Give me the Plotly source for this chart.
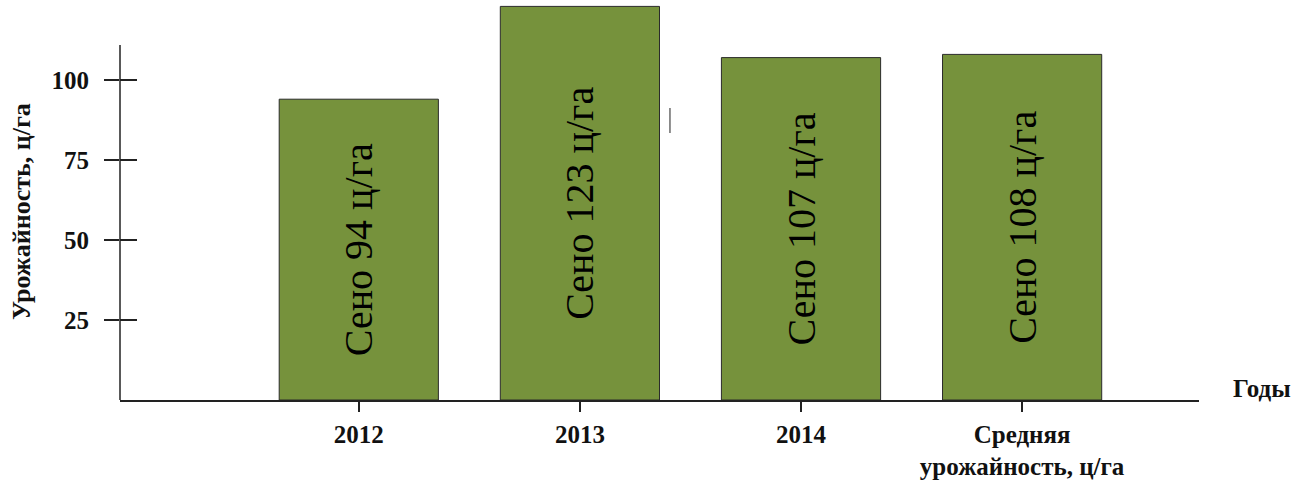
import plotly.graph_objects as go

# Hay yield by year, centner per hectare
categories = ["2012", "2013", "2014", "Средняя<br>урожайность, ц/га"]
yields = [94, 123, 107, 108]
bar_labels = ["Сено 94 ц/га", "Сено 123 ц/га", "Сено 107 ц/га", "Сено 108 ц/га"]
y_ticks = [25, 50, 75, 100]
y_title = "Урожайность, ц/га"
x_title = "Годы"

SERIF = "Liberation Serif, Times New Roman, serif"
BAR_GREEN = "#76923C"
INK = "#111111"

fig = go.Figure()

fig.add_trace(go.Bar(
    x=list(range(len(categories))),
    y=yields,
    width=0.72,
    marker=dict(color=BAR_GREEN, line=dict(color="#2b2b2b", width=1)),
    text=bar_labels,
    textposition="inside",
    insidetextanchor="middle",
    textangle=-90,
    textfont=dict(family=SERIF, size=40, color="black"),
    hoverinfo="skip",
))

# second y-axis only to draw the inner half of the crossing tick marks
fig.add_trace(go.Scatter(x=[None], y=[None], yaxis="y2", showlegend=False))

fig.update_layout(
    width=1294,
    height=480,
    margin=dict(l=120, r=95, t=0, b=80),
    paper_bgcolor="white",
    plot_bgcolor="white",
    showlegend=False,
    font=dict(family=SERIF, color=INK),
    xaxis=dict(
        range=[-1.08, 3.80],
        tickvals=list(range(len(categories))),
        ticktext=categories,
        ticks="outside",
        ticklen=10,
        tickwidth=1.5,
        tickcolor="#222",
        showline=True,
        linecolor="#222",
        linewidth=1.5,
        showgrid=False,
        zeroline=False,
        tickfont=dict(family=SERIF, size=25, color=INK, weight="bold"),
        ticklabelstandoff=1,
        automargin=False,
        fixedrange=True,
    ),
    yaxis=dict(
        range=[0, 125],
        tickvals=y_ticks,
        ticktext=[f"{v}\u2009\u2009" for v in y_ticks],
        ticks="outside",
        ticklen=15,
        tickwidth=1.5,
        tickcolor="#222",
        showline=False,
        showgrid=False,
        zeroline=False,
        tickfont=dict(family=SERIF, size=25, color=INK, weight="bold"),
        automargin=False,
    ),
    yaxis2=dict(
        overlaying="y",
        matches="y",
        side="left",
        tickvals=y_ticks,
        ticks="inside",
        ticklen=17,
        tickwidth=1.5,
        tickcolor="#222",
        showticklabels=False,
        showgrid=False,
        zeroline=False,
        showline=False,
        automargin=False,
    ),
    annotations=[
        dict(
            text=y_title,
            xref="paper", yref="paper",
            x=-0.0918, y=0.4725,
            xanchor="center", yanchor="middle",
            textangle=-90,
            showarrow=False,
            font=dict(family=SERIF, size=26, color=INK, weight="bold"),
        ),
        dict(
            text=x_title,
            xref="paper", yref="paper",
            x=1.030, y=0.03,
            xanchor="left", yanchor="middle",
            showarrow=False,
            font=dict(family=SERIF, size=25, color=INK, weight="bold"),
        ),
    ],
    shapes=[
        # vertical axis line, shorter than the plotting area
        dict(type="line", xref="paper", yref="paper", x0=0, x1=0, y0=0, y1=0.8875,
             line=dict(color="#222", width=1.5)),
        # small stray stroke beside the 2013 bar
        dict(type="line", xref="paper", yref="paper", x0=0.5097, x1=0.5097, y0=0.6675, y1=0.73,
             line=dict(color="#444", width=1.2)),
    ],
)

fig.write_html("out.html")
